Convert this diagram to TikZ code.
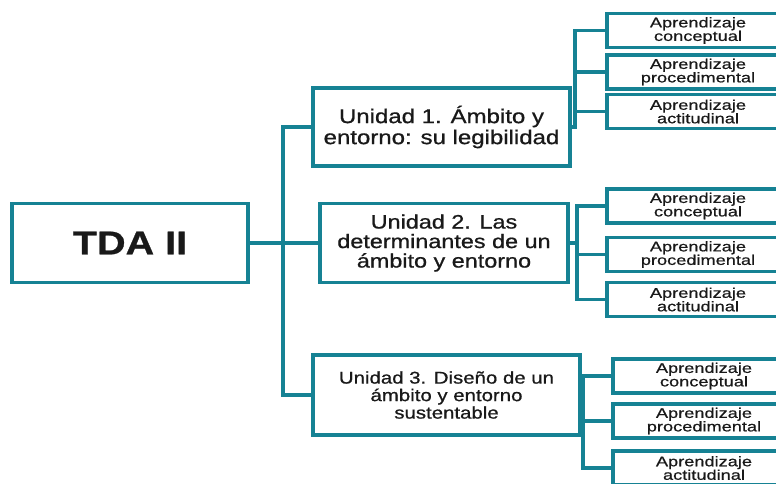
\documentclass[tikz,border=0pt]{standalone}
\usepackage{fontspec}
\setmainfont{Liberation Sans}
\newfontfamily\unitfont[FakeStretch=1.2,FakeBold=0.8]{Liberation Sans}
\newfontfamily\itemfont[FakeStretch=1.3,FakeBold=0.6]{Liberation Sans}
\definecolor{tealline}{RGB}{22,130,148}
\definecolor{inktext}{RGB}{25,25,25}

\begin{document}
\begin{tikzpicture}[x=1pt,y=-1pt,
    box/.style={draw=tealline,line width=3.2pt,fill=white,inner sep=0pt,align=center,text=inktext},
    unitbox/.style={box,font=\unitfont\fontsize{20}{21}\selectfont},
    itembox/.style={box,minimum width=182pt,minimum height=34pt,font=\itemfont\fontsize{14}{13.5}\selectfont},
    link/.style={draw=tealline,line width=3.2pt}]
    \useasboundingbox (0,0) rectangle (776,483);
    \clip (0,0) rectangle (776,483);
    \node[box,minimum width=236pt,minimum height=79pt,font=\unitfont\bfseries\fontsize{33}{33}\selectfont] (tda) at (130,243) {TDA II};
    \node[unitbox,minimum width=257pt,minimum height=78pt] (u1) at (441.5,127) {Unidad 1. Ámbito y\\entorno: su legibilidad};
    \node[unitbox,minimum width=248pt,minimum height=79pt,font=\unitfont\fontsize{19.5}{19.5}\selectfont] (u2) at (444,243) {Unidad 2. Las\\determinantes de un\\ámbito y entorno};
    \node[unitbox,minimum width=267pt,minimum height=80pt,font=\unitfont\fontsize{17}{17.5}\selectfont] (u3) at (446.5,395) {Unidad 3. Diseño de un\\ámbito y entorno\\sustentable};
    \node[itembox] (a11) at (698,30.5) {Aprendizaje\\conceptual};
    \node[itembox] (a12) at (698,72) {Aprendizaje\\procedimental};
    \node[itembox] (a13) at (698,111.5) {Aprendizaje\\actitudinal};
    \node[itembox] (a21) at (698,206) {Aprendizaje\\conceptual};
    \node[itembox] (a22) at (698,254.5) {Aprendizaje\\procedimental};
    \node[itembox] (a23) at (698,299.5) {Aprendizaje\\actitudinal};
    \node[itembox] (a31) at (704,376) {Aprendizaje\\conceptual};
    \node[itembox] (a32) at (704,421) {Aprendizaje\\procedimental};
    \node[itembox] (a33) at (704,468) {Aprendizaje\\actitudinal};
    \coordinate (trunk) at (283,0);
    \coordinate (bus1) at (575,0);
    \coordinate (bus2) at (577,0);
    \coordinate (bus3) at (583,0);
    \draw[link] (u1.west) -- (u1.west -| trunk) -- (u3.west -| trunk) -- (u3.west);
    \draw[link] (tda.east) -- (u2.west);
    \draw[link] (u1.east) -- (u1.east -| bus1) -- (a11.west -| bus1) -- (a11.west);
    \draw[link] (a12.west) -- (a12.west -| bus1);
    \draw[link] (a13.west) -- (a13.west -| bus1);
    \draw[link] (a21.west) -- (a21.west -| bus2) -- (a23.west -| bus2) -- (a23.west);
    \draw[link] (u2.east) -- (u2.east -| bus2);
    \draw[link] (a22.west) -- (a22.west -| bus2);
    \draw[link] (a31.west) -- (a31.west -| bus3) -- (a33.west -| bus3) -- (a33.west);
    \draw[link] (u3.east) -- (u3.east -| bus3);
    \draw[link] (a32.west) -- (a32.west -| bus3);
\end{tikzpicture}
\end{document}
